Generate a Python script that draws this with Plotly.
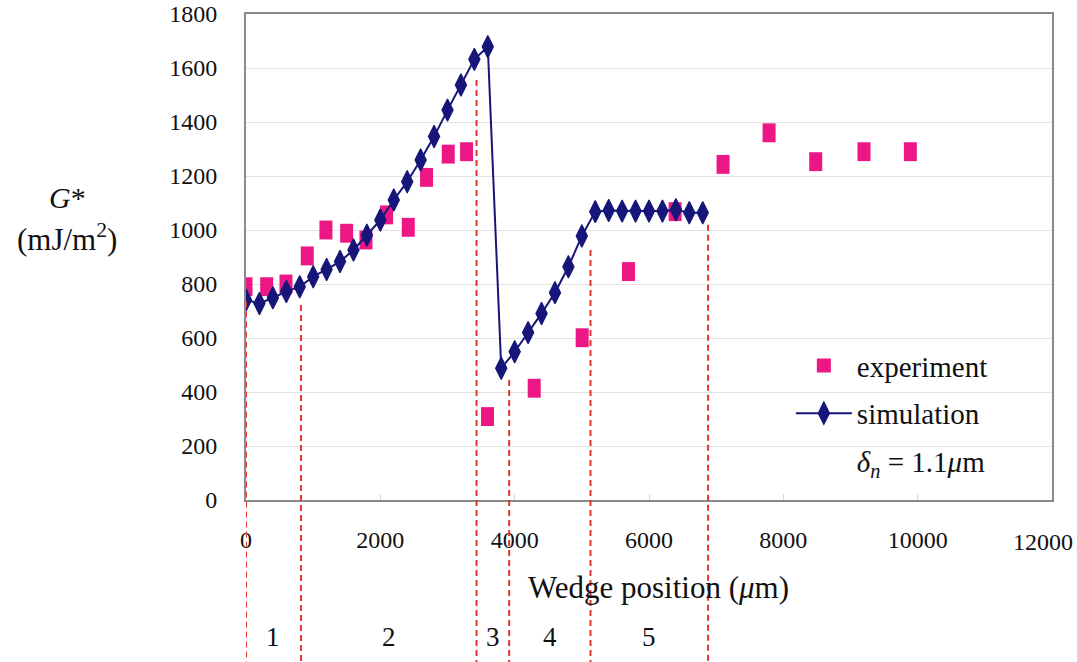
import plotly.graph_objects as go

# ---------------- data ----------------
sim_x = [0, 200, 400, 600, 800, 1000, 1200, 1400, 1600, 1800, 2000, 2200, 2400, 2600,
         2800, 3000, 3200, 3400, 3600,
         3800, 4000, 4200, 4400, 4600, 4800, 5000, 5200, 5400, 5600, 5800, 6000,
         6200, 6400, 6600, 6800]
sim_y = [741, 728, 749, 772, 790, 827, 854, 883, 926, 981, 1037, 1111, 1179, 1259,
         1346, 1444, 1537, 1632, 1679,
         488, 549, 620, 691, 768, 864, 978, 1068, 1072, 1070, 1070, 1070,
         1070, 1075, 1064, 1064]

exp_x = [0, 308, 595, 912, 1190, 1498, 1786, 2093, 2416, 2688, 3011, 3284, 3596,
         4291, 5005, 5695, 6389, 7103, 7788, 8482, 9201, 9891]
exp_y = [790, 790, 800, 904, 1000, 988, 963, 1056, 1010, 1195, 1281, 1290, 309,
         414, 601, 846, 1068, 1243, 1360, 1253, 1290, 1290]

region_bounds = [0, 818, 3432, 3918, 5129, 6880]      # dashed boundary positions
region_bound_top = [735, 722, 1556, 444, 926, 1019]   # where each dashed line starts
region_labels = ["1", "2", "3", "4", "5"]

x_tickvals = [0, 2000, 4000, 6000, 8000, 10000, 12000]
x_ticktext = ["0", "2000", "4000", "6000", "8000", "10000", "12000"]
y_tickvals = [0, 200, 400, 600, 800, 1000, 1200, 1400, 1600, 1800]
y_ticktext = ["0", "200", "400", "600", "800", "1000", "1200", "1400", "1600", "1800"]

X_RANGE = [0, 12000]
Y_RANGE = [0, 1800]

FONT = "Liberation Serif"
PINK = "#EC1784"
NAVY = "#16167A"
RED = "#E5322D"

fig = go.Figure()

# experiment (tall rectangles)
fig.add_trace(go.Scatter(
    x=exp_x, y=exp_y, mode="markers", showlegend=False,
    marker=dict(symbol="line-ns", size=13.5, line=dict(width=13, color=PINK), color=PINK),
))
# legend stand-in for experiment
fig.add_trace(go.Scatter(
    x=[None], y=[None], mode="markers", name="experiment", legendgroup="a",
    marker=dict(symbol="square", size=14, color=PINK),
))
# simulation
fig.add_trace(go.Scatter(
    x=sim_x, y=sim_y, mode="lines+markers", name="simulation", legendgroup="b",
    line=dict(color=NAVY, width=2),
    marker=dict(symbol="diamond-tall", size=16, color=NAVY, line=dict(width=1.2, color=NAVY)),
))
# parameter note in legend
fig.add_trace(go.Scatter(
    x=[None], y=[None], mode="lines", legendgroup="c",
    name="<i>δ</i><sub><i>n</i></sub> = 1.1<i>μ</i>m",
    line=dict(width=0, color="rgba(0,0,0,0)"),
))

# dashed region boundaries (extend below the axes)
shapes = []
for xb, yt in zip(region_bounds, region_bound_top):
    shapes.append(dict(
        type="line", xref="x", yref="paper",
        x0=xb, x1=xb, y0=yt / Y_RANGE[1], y1=-0.34,
        line=dict(color=RED, width=2, dash="6px,4px"),
    ))

annotations = []
for i, lab in enumerate(region_labels):
    xm = (region_bounds[i] + region_bounds[i + 1]) / 2
    annotations.append(dict(
        x=xm, y=-0.282, xref="x", yref="paper", text=lab, showarrow=False,
        font=dict(family=FONT, size=27, color="#111"), xanchor="center", yanchor="middle",
    ))

# last x tick label drawn slightly inward so it stays on the page (as in the reference)
x_ticktext_axis = x_ticktext[:-1] + [""]
annotations.append(dict(
    x=x_tickvals[-1], y=-0.0864, xref="x", yref="paper", text=x_ticktext[-1],
    showarrow=False, xshift=-9, xanchor="center", yanchor="middle",
    font=dict(family=FONT, size=24, color="#111"),
))

annotations += [
    dict(x=-0.222, y=0.623, xref="paper", yref="paper", text="<i>G</i>*", showarrow=False,
         font=dict(family=FONT, size=30, color="#111"), xanchor="center", yanchor="middle"),
    dict(x=-0.222, y=0.541, xref="paper", yref="paper", text="(mJ/m<sup>2</sup>)",
         showarrow=False, font=dict(family=FONT, size=31, color="#111"),
         xanchor="center", yanchor="middle"),
    dict(x=0.512, y=-0.181, xref="paper", yref="paper",
         text="Wedge position (<i>μ</i>m)", showarrow=False,
         font=dict(family=FONT, size=31, color="#111"), xanchor="center", yanchor="middle"),
]

fig.update_layout(
    width=1077, height=662,
    margin=dict(l=246, r=25, t=14, b=162, autoexpand=False),
    plot_bgcolor="white", paper_bgcolor="white",
    font=dict(family=FONT, color="#111"),
    shapes=shapes, annotations=annotations,
    legend=dict(
        x=0.676, y=0.329, xanchor="left", yanchor="top",
        bgcolor="rgba(0,0,0,0)", font=dict(family=FONT, size=29, color="#111"),
        traceorder="grouped", tracegroupgap=7, itemwidth=56,
    ),
    xaxis=dict(
        range=X_RANGE, tickvals=x_tickvals, ticktext=x_ticktext_axis, showgrid=False,
        zeroline=False, automargin=False, ticklabeloverflow="allow",
        showline=True, linecolor="#8A8A8A", linewidth=2, mirror=True,
        ticks="inside", ticklen=6, tickcolor="#D5D5D5", tickwidth=1,
        tickfont=dict(family=FONT, size=24, color="#111"), ticklabelstandoff=17,
    ),
    yaxis=dict(
        range=Y_RANGE, tickvals=y_tickvals, ticktext=y_ticktext, showgrid=True,
        gridcolor="#E2E2E2", gridwidth=1, automargin=False,
        zeroline=False, showline=True, linecolor="#8A8A8A", linewidth=2, mirror=True,
        ticks="", tickfont=dict(family=FONT, size=24, color="#111"), ticklabelstandoff=22,
    ),
)

fig.write_html("out.html", config={"displayModeBar": False},
               post_script="document.body.style.margin='0';")
